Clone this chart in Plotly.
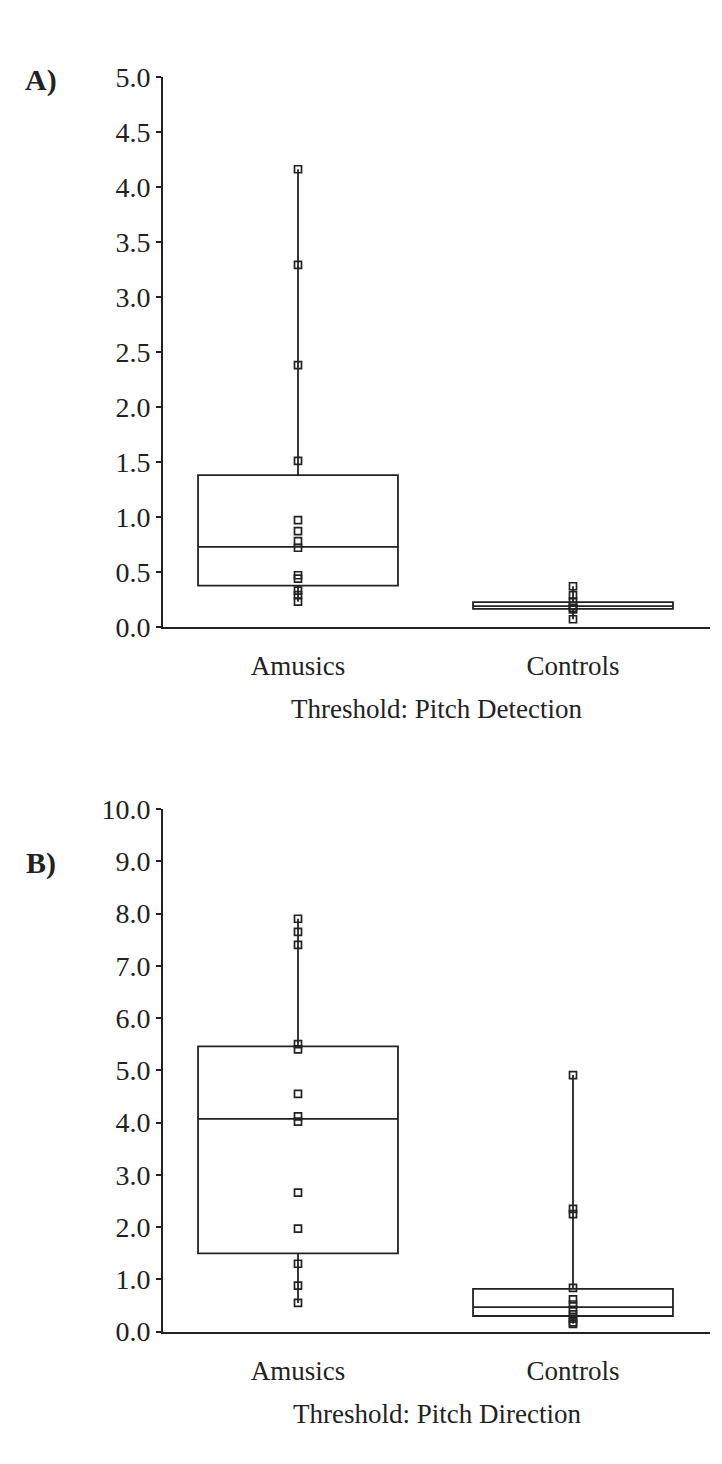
import plotly.graph_objects as go

W, H = 722, 1464

categories = ["Amusics", "Controls"]

# Panel A: Pitch Detection thresholds
a_amusics_pts = [4.16, 3.29, 2.38, 1.51, 0.97, 0.87, 0.78, 0.72, 0.47, 0.44, 0.33, 0.29, 0.23]
a_controls_pts = [0.37, 0.29, 0.23, 0.19, 0.17, 0.16, 0.07]
a_q1 = [0.376, 0.165]
a_median = [0.727, 0.19]
a_q3 = [1.38, 0.225]
a_low = [0.23, 0.07]
a_high = [4.16, 0.37]
a_ticks = [0.0, 0.5, 1.0, 1.5, 2.0, 2.5, 3.0, 3.5, 4.0, 4.5, 5.0]

# Panel B: Pitch Direction thresholds
b_amusics_pts = [7.90, 7.65, 7.40, 5.50, 5.40, 4.55, 4.12, 4.02, 2.66, 1.97, 1.30, 0.88, 0.55]
b_controls_pts = [4.91, 2.35, 2.25, 0.84, 0.62, 0.52, 0.42, 0.33, 0.25, 0.18, 0.15]
b_q1 = [1.50, 0.30]
b_median = [4.07, 0.47]
b_q3 = [5.46, 0.82]
b_low = [0.55, 0.15]
b_high = [7.90, 4.91]
b_ticks = [0.0, 1.0, 2.0, 3.0, 4.0, 5.0, 6.0, 7.0, 8.0, 9.0, 10.0]

INK = "#222222"
FONT = "Liberation Serif"

fig = go.Figure()

def add_panel(xa, ya, q1, med, q3, lo, hi, pts_list):
    fig.add_trace(go.Box(
        x=[0, 1], q1=q1, median=med, q3=q3, lowerfence=lo, upperfence=hi,
        width=0.727, whiskerwidth=0, boxpoints=False,
        fillcolor="rgba(255,255,255,0)", line=dict(color=INK, width=1.8),
        xaxis=xa, yaxis=ya, showlegend=False, hoverinfo="skip"))
    for i, pts in enumerate(pts_list):
        fig.add_trace(go.Scatter(
            x=[i] * len(pts), y=pts, mode="markers",
            marker=dict(symbol="square-open", size=7, color=INK,
                        line=dict(color=INK, width=1.7)),
            xaxis=xa, yaxis=ya, showlegend=False, hoverinfo="skip"))

add_panel("x", "y", a_q1, a_median, a_q3, a_low, a_high, [a_amusics_pts, a_controls_pts])
add_panel("x2", "y2", b_q1, b_median, b_q3, b_low, b_high, [b_amusics_pts, b_controls_pts])

xl, xr = 155, 702
cx0, cx1 = 290, 565
sp = cx1 - cx0
xrange = [-(cx0 - xl) / sp, 1 + (xr - cx1) / sp]

def px_y(p):
    return 1 - p / H

xcommon = dict(range=xrange, domain=[xl / W, xr / W], tickvals=[0, 1], ticktext=categories,
               showline=True, linecolor=INK, linewidth=2, ticks="", showgrid=False,
               zeroline=False, tickfont=dict(family=FONT, size=27, color=INK),
               ticklabelstandoff=14, fixedrange=True)
ycommon = dict(showline=True, linecolor=INK, linewidth=2, ticks="outside", ticklen=5,
               tickwidth=2, tickcolor=INK, showgrid=False, zeroline=False, tickformat=".1f",
               tickfont=dict(family=FONT, size=28, color=INK), fixedrange=True)

fig.update_layout(
    width=W, height=H, margin=dict(l=0, r=0, t=0, b=0),
    paper_bgcolor="white", plot_bgcolor="white",
    xaxis=dict(anchor="y", **xcommon),
    yaxis=dict(anchor="x", domain=[px_y(617), px_y(55)], range=[0, 5], tickvals=a_ticks, **ycommon),
    xaxis2=dict(anchor="y2", **xcommon),
    yaxis2=dict(anchor="x2", domain=[px_y(1337), px_y(803)], range=[0, 10], tickvals=b_ticks, **ycommon),
)

ann = dict(xref="paper", yref="paper", showarrow=False, xanchor="center", yanchor="middle")
fig.add_annotation(text="Threshold: Pitch Detection", x=(xl + xr) / 2 / W, y=px_y(701),
                   font=dict(family=FONT, size=27, color=INK), **ann)
fig.add_annotation(text="Threshold: Pitch Direction", x=(xl + xr) / 2 / W, y=px_y(1421),
                   font=dict(family=FONT, size=27, color=INK), **ann)
fig.add_annotation(text="<b>A)</b>", x=33 / W, y=px_y(58),
                   font=dict(family=FONT, size=30, color=INK), **ann)
fig.add_annotation(text="<b>B)</b>", x=33 / W, y=px_y(858),
                   font=dict(family=FONT, size=30, color=INK), **ann)

fig.write_html("out.html")
